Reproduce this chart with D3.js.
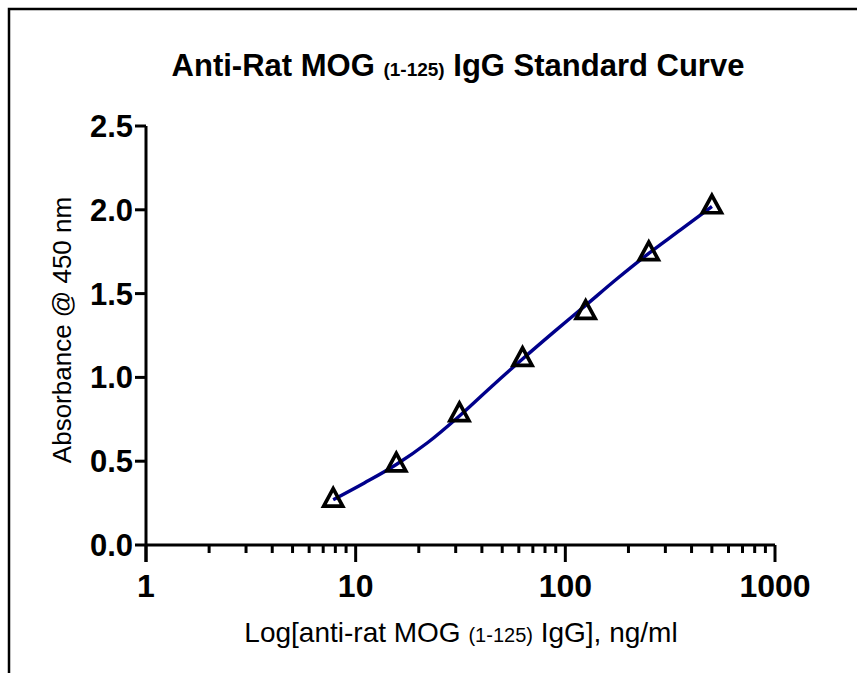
<!DOCTYPE html>
<html>
<head>
<meta charset="utf-8">
<script src="https://cdn.jsdelivr.net/npm/d3@7"></script>
<style>
    body { margin: 0; background: #fff; }
    svg { display: block; font-family: "Liberation Sans", Arial, sans-serif; }
</style>
</head>
<body>
<div id="chart"></div>
<script>

// standard dilutions (ng/ml) and measured absorbance
let concentrations = [7.8125, 15.625, 31.25, 62.5, 125, 250, 500];
let absorbance = [0.28, 0.49, 0.79, 1.12, 1.40, 1.75, 2.03];

// fitted curve
let curveConc = [7.8125, 11, 15.625, 22, 31.25, 44, 62.5, 88, 125, 177, 250, 354, 500];
let curveAbs = [0.27, 0.37, 0.48, 0.61, 0.77, 0.94, 1.11, 1.27, 1.43, 1.59, 1.74, 1.88, 2.02];

let yTicks = [0, 0.5, 1.0, 1.5, 2.0, 2.5];
let xTicks = [1, 10, 100, 1000];

let width = 857, height = 673;
let margin = {top: 126, left: 146, right: 82, bottom: 128};

let svg = d3.select("#chart").append("svg")
    .attr("width", width)
    .attr("height", height);

// frame (top and left edges only)
svg.append("path")
    .attr("d", "M9,673 L9,9 L857,9")
    .attr("fill", "none")
    .attr("stroke", "black")
    .attr("stroke-width", 2.5);

let x = d3.scaleLog()
    .domain([1, 1000])
    .range([margin.left, width - margin.right]);

let y = d3.scaleLinear()
    .domain([0, 2.5])
    .range([height - margin.bottom, margin.top]);

// title
let title = svg.append("text")
    .attr("x", 458)
    .attr("y", 76)
    .attr("text-anchor", "middle")
    .attr("font-weight", "bold")
    .attr("font-size", 31);
title.append("tspan").text("Anti-Rat MOG ");
title.append("tspan").attr("font-size", 19).text("(1-125)");
title.append("tspan").text(" IgG Standard Curve");

// x axis
let xMinor = [];
for (let p = 0; p < 3; p++) {
    for (let k = 2; k <= 9; k++) xMinor.push(k * Math.pow(10, p));
}

let xAxisG = svg.append("g")
    .attr("transform", "translate(0," + y(0) + ")");

xAxisG.append("line")
    .attr("x1", x(1)).attr("x2", x(1000))
    .attr("stroke", "black").attr("stroke-width", 3);

xAxisG.selectAll(".minor")
    .data(xMinor)
    .enter()
    .append("line")
    .attr("x1", d => x(d)).attr("x2", d => x(d))
    .attr("y1", 0).attr("y2", 8)
    .attr("stroke", "black").attr("stroke-width", 3);

xAxisG.selectAll(".major")
    .data(xTicks)
    .enter()
    .append("line")
    .attr("x1", d => x(d)).attr("x2", d => x(d))
    .attr("y1", 0).attr("y2", 17)
    .attr("stroke", "black").attr("stroke-width", 3);

xAxisG.selectAll(".xlabel")
    .data(xTicks)
    .enter()
    .append("text")
    .attr("x", d => x(d))
    .attr("y", 52)
    .attr("text-anchor", "middle")
    .attr("font-weight", "bold")
    .attr("font-size", 32)
    .text(d => d);

// y axis
let yAxisG = svg.append("g")
    .attr("transform", "translate(" + x(1) + ",0)");

yAxisG.append("line")
    .attr("y1", y(2.5)).attr("y2", y(0) + 17)
    .attr("stroke", "black").attr("stroke-width", 3);

yAxisG.selectAll(".ytick")
    .data(yTicks)
    .enter()
    .append("line")
    .attr("x1", -11).attr("x2", 0)
    .attr("y1", d => y(d)).attr("y2", d => y(d))
    .attr("stroke", "black").attr("stroke-width", 3);

yAxisG.selectAll(".ylabel")
    .data(yTicks)
    .enter()
    .append("text")
    .attr("x", -13)
    .attr("y", d => y(d) + 11)
    .attr("text-anchor", "end")
    .attr("font-weight", "bold")
    .attr("font-size", 31)
    .text(d => d.toFixed(1));

// axis titles
svg.append("text")
    .attr("transform", "translate(71,330) rotate(-90)")
    .attr("text-anchor", "middle")
    .attr("font-size", 26)
    .text("Absorbance @ 450 nm");

let xTitle = svg.append("text")
    .attr("x", 461)
    .attr("y", 642)
    .attr("text-anchor", "middle")
    .attr("font-size", 28);
xTitle.append("tspan").text("Log[anti-rat MOG ");
xTitle.append("tspan").attr("font-size", 20).text("(1-125)");
xTitle.append("tspan").text(" IgG], ng/ml");

// fitted curve
let curveData = curveConc.map((c, i) => ({c: c, a: curveAbs[i]}));

svg.append("path")
    .datum(curveData)
    .attr("fill", "none")
    .attr("stroke", "#00008b")
    .attr("stroke-width", 3.4)
    .attr("d", d3.line()
        .x(d => x(d.c))
        .y(d => y(d.a))
        .curve(d3.curveMonotoneX));

// data points as open triangles
let points = concentrations.map((c, i) => ({c: c, a: absorbance[i]}));

svg.selectAll(".pt")
    .data(points)
    .enter()
    .append("path")
    .attr("transform", d => "translate(" + x(d.c) + "," + y(d.a) + ")")
    .attr("d", "M0,-9.5 L9.5,8 L-9.5,8 Z")
    .attr("fill", "none")
    .attr("stroke", "black")
    .attr("stroke-width", 3.7)
    .attr("stroke-linejoin", "miter");

</script>
</body>
</html>
